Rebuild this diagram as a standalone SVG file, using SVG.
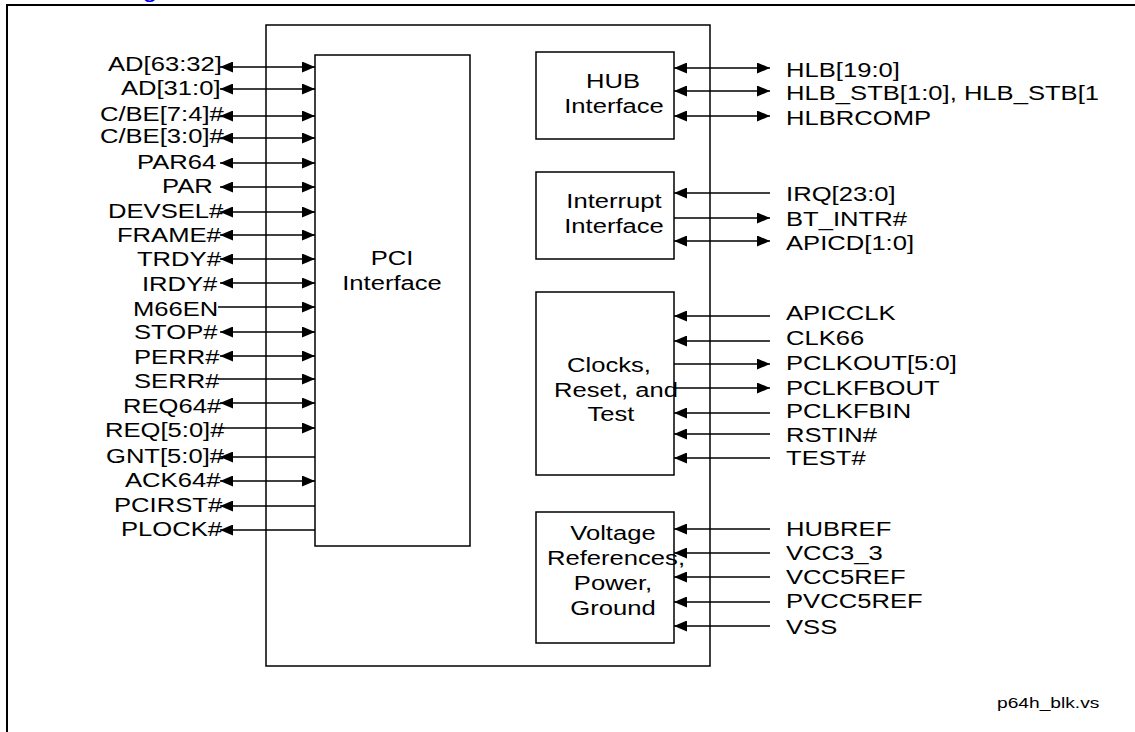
<svg xmlns="http://www.w3.org/2000/svg" width="1135" height="732" viewBox="0 0 1135 732">
<style>
.t{font-family:"Liberation Sans",Arial,sans-serif;font-size:20px;fill:#000}
.c{text-anchor:middle}
.box{fill:none;stroke:#000;stroke-width:1.5}
.w{stroke:#000;stroke-width:1.5;fill:none}
</style>
<defs>
<marker id="ah" markerUnits="userSpaceOnUse" markerWidth="13" markerHeight="11" refX="13" refY="5.5" orient="auto-start-reverse">
<path d="M0,0 L13,5.5 L0,11 z" fill="#000"/>
</marker>
</defs>
<rect width="1135" height="732" fill="#fff"/>
<path d="M7,740 L7,5 L1140,5" fill="none" stroke="#000" stroke-width="2"/>
<text x="112" y="-1" transform="scale(1.28 1)" style="font-family:'Liberation Sans',Arial,sans-serif;font-size:17px;font-weight:bold;fill:#0000ff">g</text>

<g id="chip"><rect class="box" x="266" y="25" width="444" height="641"/></g>
<g id="pci"><rect class="box" x="315" y="55" width="155" height="491"/></g>
<g id="hub"><rect class="box" x="536" y="52" width="138" height="87"/></g>
<g id="interrupt"><rect class="box" x="536" y="172" width="138" height="87"/></g>
<g id="clocks"><rect class="box" x="536" y="292" width="138" height="183"/></g>
<g id="voltage"><rect class="box" x="536" y="512" width="138" height="131"/></g>

<g id="connectors" class="w">
<line x1="220" y1="67" x2="315" y2="67" marker-start="url(#ah)" marker-end="url(#ah)"/>
<line x1="220" y1="89" x2="315" y2="89" marker-start="url(#ah)" marker-end="url(#ah)"/>
<line x1="220" y1="116" x2="315" y2="116" marker-start="url(#ah)" marker-end="url(#ah)"/>
<line x1="220" y1="138" x2="315" y2="138" marker-start="url(#ah)" marker-end="url(#ah)"/>
<line x1="220" y1="163" x2="315" y2="163" marker-start="url(#ah)" marker-end="url(#ah)"/>
<line x1="220" y1="187" x2="315" y2="187" marker-start="url(#ah)" marker-end="url(#ah)"/>
<line x1="220" y1="212" x2="315" y2="212" marker-start="url(#ah)" marker-end="url(#ah)"/>
<line x1="220" y1="235" x2="315" y2="235" marker-start="url(#ah)" marker-end="url(#ah)"/>
<line x1="220" y1="259" x2="315" y2="259" marker-start="url(#ah)" marker-end="url(#ah)"/>
<line x1="220" y1="283" x2="315" y2="283" marker-start="url(#ah)" marker-end="url(#ah)"/>
<line x1="218" y1="307" x2="315" y2="307" marker-end="url(#ah)"/>
<line x1="220" y1="332" x2="315" y2="332" marker-start="url(#ah)" marker-end="url(#ah)"/>
<line x1="220" y1="356" x2="315" y2="356" marker-start="url(#ah)" marker-end="url(#ah)"/>
<line x1="218" y1="379" x2="315" y2="379" marker-end="url(#ah)"/>
<line x1="220" y1="403" x2="315" y2="403" marker-start="url(#ah)" marker-end="url(#ah)"/>
<line x1="218" y1="428" x2="315" y2="428" marker-end="url(#ah)"/>
<line x1="315" y1="457" x2="220" y2="457" marker-end="url(#ah)"/>
<line x1="220" y1="481" x2="315" y2="481" marker-start="url(#ah)" marker-end="url(#ah)"/>
<line x1="315" y1="506" x2="220" y2="506" marker-end="url(#ah)"/>
<line x1="315" y1="530" x2="220" y2="530" marker-end="url(#ah)"/>
<line x1="674" y1="68" x2="770" y2="68" marker-start="url(#ah)" marker-end="url(#ah)"/>
<line x1="674" y1="91" x2="770" y2="91" marker-start="url(#ah)" marker-end="url(#ah)"/>
<line x1="674" y1="116" x2="770" y2="116" marker-start="url(#ah)" marker-end="url(#ah)"/>
<line x1="770" y1="193" x2="674" y2="193" marker-end="url(#ah)"/>
<line x1="674" y1="218" x2="770" y2="218" marker-end="url(#ah)"/>
<line x1="674" y1="241" x2="770" y2="241" marker-start="url(#ah)" marker-end="url(#ah)"/>
<line x1="770" y1="316" x2="674" y2="316" marker-end="url(#ah)"/>
<line x1="770" y1="341" x2="674" y2="341" marker-end="url(#ah)"/>
<line x1="674" y1="364" x2="770" y2="364" marker-end="url(#ah)"/>
<line x1="674" y1="388" x2="770" y2="388" marker-end="url(#ah)"/>
<line x1="770" y1="413" x2="674" y2="413" marker-end="url(#ah)"/>
<line x1="770" y1="434" x2="674" y2="434" marker-end="url(#ah)"/>
<line x1="770" y1="458" x2="674" y2="458" marker-end="url(#ah)"/>
<line x1="770" y1="529" x2="674" y2="529" marker-end="url(#ah)"/>
<line x1="770" y1="553" x2="674" y2="553" marker-end="url(#ah)"/>
<line x1="770" y1="577" x2="674" y2="577" marker-end="url(#ah)"/>
<line x1="770" y1="602" x2="674" y2="602" marker-end="url(#ah)"/>
<line x1="770" y1="626" x2="674" y2="626" marker-end="url(#ah)"/>
</g>

<g id="labels" transform="scale(1.28 1)">
<text class="t" x="84.4" y="71.5">AD[63:32]</text>
<text class="t" x="94.5" y="95">AD[31:0]</text>
<text class="t" x="78.1" y="121">C/BE[7:4]#</text>
<text class="t" x="78.1" y="143">C/BE[3:0]#</text>
<text class="t" x="107" y="169">PAR64</text>
<text class="t" x="126.6" y="193">PAR</text>
<text class="t" x="84.4" y="218">DEVSEL#</text>
<text class="t" x="91.4" y="242">FRAME#</text>
<text class="t" x="107" y="266">TRDY#</text>
<text class="t" x="110.9" y="291">IRDY#</text>
<text class="t" x="103.9" y="316">M66EN</text>
<text class="t" x="104.7" y="339">STOP#</text>
<text class="t" x="104.7" y="364">PERR#</text>
<text class="t" x="104.7" y="388">SERR#</text>
<text class="t" x="96.1" y="413">REQ64#</text>
<text class="t" x="82" y="437">REQ[5:0]#</text>
<text class="t" x="82.8" y="463">GNT[5:0]#</text>
<text class="t" x="97.7" y="487">ACK64#</text>
<text class="t" x="89.1" y="512">PCIRST#</text>
<text class="t" x="94.5" y="536">PLOCK#</text>

<text class="t c" x="306.25" y="265">PCI</text>
<text class="t c" x="306.25" y="290">Interface</text>

<text class="t c" x="478.9" y="88">HUB</text>
<text class="t c" x="479.7" y="113">Interface</text>
<text class="t c" x="479.7" y="208">Interrupt</text>
<text class="t c" x="479.7" y="233">Interface</text>
<text class="t c" x="475.8" y="372">Clocks,</text>
<text class="t c" x="481.25" y="397">Reset, and</text>
<text class="t c" x="477.3" y="421">Test</text>
<text class="t c" x="478.9" y="540">Voltage</text>
<text class="t c" x="481.25" y="565">References,</text>
<text class="t c" x="478.9" y="590">Power,</text>
<text class="t c" x="478.9" y="615">Ground</text>

<text class="t" x="614.1" y="77">HLB[19:0]</text>
<text class="t" x="614.1" y="100">HLB_STB[1:0], HLB_STB[1</text>
<text class="t" x="614.1" y="125">HLBRCOMP</text>
<text class="t" x="614.1" y="201">IRQ[23:0]</text>
<text class="t" x="614.1" y="226">BT_INTR#</text>
<text class="t" x="614.1" y="250">APICD[1:0]</text>
<text class="t" x="614.1" y="320">APICCLK</text>
<text class="t" x="614.1" y="345">CLK66</text>
<text class="t" x="614.1" y="370">PCLKOUT[5:0]</text>
<text class="t" x="614.1" y="395">PCLKFBOUT</text>
<text class="t" x="614.1" y="418">PCLKFBIN</text>
<text class="t" x="614.1" y="442">RSTIN#</text>
<text class="t" x="614.1" y="465">TEST#</text>
<text class="t" x="614.1" y="536">HUBREF</text>
<text class="t" x="614.1" y="560">VCC3_3</text>
<text class="t" x="614.1" y="584">VCC5REF</text>
<text class="t" x="614.1" y="608">PVCC5REF</text>
<text class="t" x="614.1" y="634">VSS</text>

<text class="t" x="778.9" y="708" style="font-size:15px">p64h_blk.vs</text>
</g>
</svg>
